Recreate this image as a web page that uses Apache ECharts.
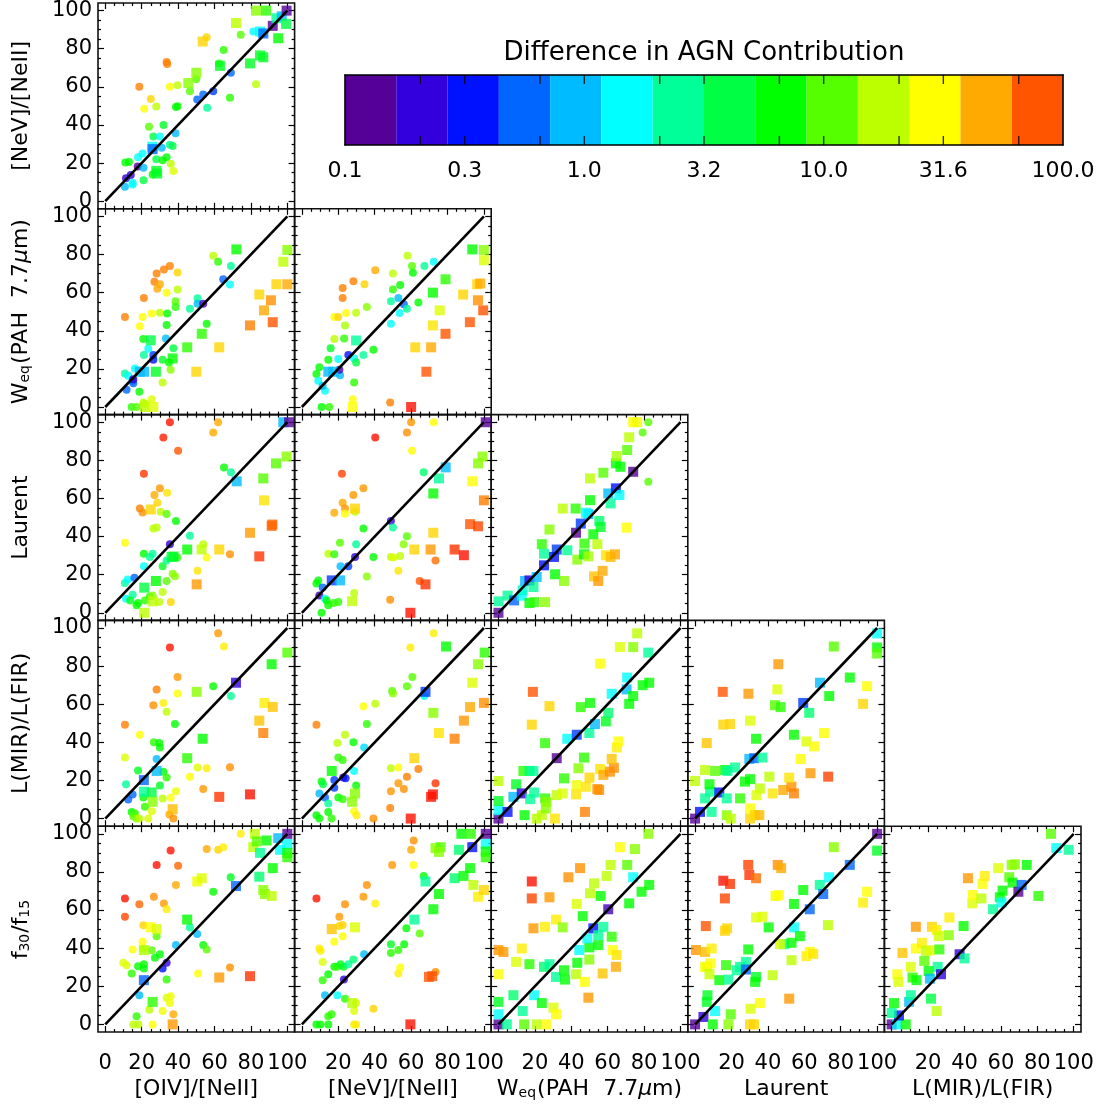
<!DOCTYPE html>
<html><head><meta charset="utf-8">
<script src="https://cdn.jsdelivr.net/npm/echarts@6/dist/echarts.min.js"></script>
<style>html,body{margin:0;padding:0;background:#fff}#c{width:1104px;height:1106px}</style>
</head><body><div id="c"></div>
<script>
// ---------- colour scale (Difference in AGN Contribution, 0.1 .. 100, 14 log bins; 14 = off-scale red)
const PALETTE = ['#550096','#3300dd','#0011ff','#0066ff','#00bbff','#00ffff','#00ff99','#00ff44','#00ff00','#55ff00','#bbff00','#ffff00','#ffaa00','#ff5500','#ff1100'];
const CB_BINS = PALETTE.slice(0, 14);
const CB_LABEL_POS = [-1, -0.5, 0, 0.5, 1, 1.5, 2];           // log10 of 0.1 .. 100
const CB_LABELS = ['0.1', '0.3', '1.0', '3.2', '10.0', '31.6', '100.0'];
const CB_TICKS = [-0.685, -0.5, -0.185, 0, 0.315, 0.5, 0.815, 1, 1.315, 1.5, 1.815];
const CB_TITLE = 'Difference in AGN Contribution';

// ---------- panel axes
const MAJOR = [0, 20, 40, 60, 80, 100];
const MINOR = [5, 10, 15, 25, 30, 35, 45, 50, 55, 65, 70, 75, 85, 90, 95];
const XLAB_FIRST = [0, 20, 40, 60, 80, 100];
const XLAB_OTHER = [20, 40, 60, 80, 100];
const YLAB = [0, 20, 40, 60, 80, 100];
const ROW_NAMES = ['[NeV]/[NeII]', 'W{s|eq}(PAH  7.7{i|μ}m)', 'Laurent', 'L(MIR)/L(FIR)', 'f{s|30}/f{s|15}'];
const COL_NAMES = ['[OIV]/[NeII]', '[NeV]/[NeII]', 'W{s|eq}(PAH  7.7{i|μ}m)', 'Laurent', 'L(MIR)/L(FIR)'];
const DIAG = [[0, 0], [100, 100]];

// ---------- data: [x, y, colour-bin]
const r1c1_circ = [[10.8,7.6,4],[15,8.8,5],[11.4,12,1],[14,13.8,1],[17.8,18.2,0],[11,20.3,8],[13,20.6,8],[15,9.7,5],[18,23,5],[20.5,25,5],[21,17.6,4],[21,11,7],[18.7,60,12.5],[21.4,48.5,11],[25,53.6,11.5],[28,49.7,10],[24,39,9],[26.4,34,7],[30,34,5],[32,40,7.5],[26,14,8],[28,22,7],[31,28,4],[31.5,21.5,8],[33.7,23,8],[35.5,29.6,6],[37,29,7],[38.6,35.6,4],[36,19.7,10],[37.4,15.9,10.5],[33.7,73,12.5],[34,72,12.5],[35.5,60,11],[39.7,60.8,10],[38.8,49.4,8],[39.7,49.8,8],[46.5,57.7,9],[50,64,9],[50.5,53.4,3],[53.8,56,3],[55.7,86,11.5],[56,49,6],[59.3,57.7,2.5],[62.6,72.3,8.5],[65,79.4,8.5],[69,67.4,3],[68.5,54.3,8.5],[74.4,87.3,9],[81.3,89,5],[82.8,61.4,10]];
const r1c1_sq = [[25.8,28.6,5],[26,27.3,3],[28,15.9,7.5],[28.5,14.5,7.5],[45.6,62,9.5],[50,67.4,9.5],[53.5,83.8,11.5],[63,71,7.5],[71.8,93.5,10],[79.5,72.3,7.5],[86.8,75.5,7.5],[85,76.5,7.5],[82.8,100,9.5],[88.3,100,8.5],[85,89,5],[86.8,88,3],[92,92,0],[94,96,6],[96.9,97,4],[99.6,100,0],[99.3,93,7],[95,85.5,8]];

const r2c1_circ = [[10.8,47.2,12.5],[10.8,17.6,6],[12.6,16.4,5],[11.7,9,3],[15,13.7,3],[15.4,12.5,3],[16.3,20.2,5],[15.4,14.6,1],[14.5,0,8.5],[17.2,0,9],[18.7,8,8],[19,42.4,11],[20.5,47.2,11],[21.2,57.2,12.5],[20.9,35.7,8],[21.2,27.3,6],[23.6,30.5,5],[20.9,2.3,10],[21.8,1.5,10],[25.5,49,11],[25.5,4,10.5],[26.4,27.3,2.5],[26.4,24.8,2],[27,65.7,12.5],[28.2,70,12.5],[28.6,62,12],[30,64.4,12],[30,49.5,10],[31.5,24.8,7.5],[31.5,12.9,10],[32.2,72.2,12.5],[33.7,60,11],[33.7,43,8],[34,49,8],[33.3,36,4],[35.5,74,12.5],[35,23.4,8],[35.9,19.5,9.5],[37.4,30.8,7],[38.6,55.5,9],[38.6,52.5,8.5],[39.7,70.6,11.5],[39.7,61.6,10],[46.5,51.6,6],[50.7,57,6],[50.7,54.2,4],[53.8,54.2,0.5],[55.7,43.7,8],[59.3,79.4,10],[62,76.2,8.5],[64.8,67,3],[68.5,64.3,5],[69,74,6]];
const r2c1_sq = [[21.4,18.5,4],[19,18.5,4],[21.8,0,10],[26.4,0,10.5],[25,35,7],[27.8,18.5,7.5],[37,25.5,8],[45,31.3,8.5],[50,18.5,11.5],[53,38.4,8.5],[62.6,31.3,11.5],[72,82.7,8],[79.5,42.8,12.5],[84.6,59,11.5],[87.2,50.7,12],[91,56,12.3],[92,44.5,13],[94,64.4,11.5],[100,64.4,12],[97.8,76.2,10],[100,82.4,9.5]];
const r2c2_circ = [[8,17.3,8],[9,13.7,5],[9.6,20.8,8],[10.8,0,8],[15,0,8.5],[12.7,8.5,5],[11.4,11,4],[14.5,24.8,8],[15.8,30.8,7.5],[17.8,35.7,10],[17.8,47.2,11],[20,47.2,11.5],[20,25.2,5],[21,16.7,4],[20.6,19.5,0.5],[22.4,62.5,12.5],[22.4,57.2,12.5],[23.2,36,8.5],[23.7,42.8,9.8],[24.3,49.3,11],[25.5,27.3,2],[28.3,66,12.5],[28.7,25.5,5],[29.8,23.4,7],[28.7,12.9,8.5],[27.9,4,11],[29.8,49.5,10],[34.4,64.4,11.5],[33.8,27.3,6],[35.7,52.5,9.5],[39.3,30,8],[40.3,71.8,12],[48.5,2.3,12.5],[50,70,10],[50,61.6,8.5],[48.9,55.5,6],[48.9,43.7,5],[53,57.2,4],[53.7,49.3,5],[54,64,8],[56,53.9,3],[57.7,51.6,6],[58,79.4,10],[60.5,74,9],[61,70.4,8],[64,54.8,8],[67.3,74,6],[72.4,76.2,5]];
const r2c2_sq = [[14.5,18.5,4],[17.3,18.5,4],[29.8,34.9,6],[27.9,0,11],[60,0,14],[62.3,31.3,11.5],[71,31.3,12],[72,42.8,11.3],[72,60,8],[68.4,18.5,13],[75.7,50.7,10.5],[78.9,67,8.5],[78.9,38.4,13],[88.6,59,11.5],[92.3,44.5,13],[93.6,82.7,8],[96.3,64.4,11.5],[98,64.8,12],[96.7,56,12.3],[99.6,50.7,13],[100,82.4,9.5],[100,77,10.5]];

const r3c1_circ = [[10.8,36.7,11],[10.8,15.6,6],[12.3,17.4,5],[16,18.4,3],[11.4,7.4,5],[15,9.5,6],[13.7,6.5,7.5],[17.2,3.9,8],[18,5.1,8],[19,54.7,12.5],[20.5,52.6,12.3],[21.2,73,13.5],[21.2,31,8],[21.2,24.4,5],[21.8,6.5,8.5],[24.5,29.3,6],[26,31,6],[24.5,8.6,8.5],[26,9.1,9.5],[27,61.8,12],[26.4,44.2,10],[28.2,44.7,10],[28.6,57.7,11.5],[30,65.3,12.2],[30.4,53,10],[29.7,5.6,10],[31.5,24.4,7.5],[31.5,10.9,10],[31.9,92,13.8],[33.7,27.5,6],[33.7,51.8,9],[33.7,16.7,9],[34,63,11.3],[35.5,100,14],[35.5,36,1],[36,5.6,11.5],[37,20.5,9.5],[38.3,19.2,9.5],[38.8,48.2,8],[40,85,13],[39.5,29,8.5],[46.5,40.4,6],[50.7,22,11.3],[53.8,36,10],[55.7,29,11],[59.3,94.6,12],[62,100,12],[65.2,76.3,8],[68.5,30.7,12.3],[69,73.7,6]];
const r3c1_sq = [[21.4,13.2,7],[21.4,0,10],[26,6,10],[25,54.2,11.5],[27.8,16.7,8],[36.4,29.3,7],[37.5,29.5,7.5],[45,33.2,8],[52.9,33.2,10],[50.2,14.9,12.2],[62.6,33.2,11.5],[72.2,69,4],[79.5,42,12.2],[84.6,29.6,13.5],[86.8,70.5,9],[87.2,59,11.3],[91.4,45.6,12.8],[91.8,46.3,12.8],[93.8,78.4,9],[99.6,82,9.5],[97.8,100,4],[101,100,0]];
const r3c2_circ = [[9.6,9.1,0.5],[10.8,0,8],[8,15.3,8],[9,17,8],[11.4,13.2,3],[12.7,7.4,5],[14.5,3.9,8],[13.6,6.5,8],[14.5,31,10],[17.8,30.7,8.5],[20.9,36.7,9],[21.2,24.4,4],[17.4,5.1,8.5],[20,5.6,8.5],[17.8,52.5,12],[22,73,13.3],[22.4,57.7,12],[23.7,54.7,12.2],[23.7,52,11],[25.5,24.4,2.5],[28.3,61.8,12.2],[28.7,10.4,10],[29.2,29.3,1],[29.8,36,6],[29.2,53,10],[33.8,65.3,12.2],[33.8,44.2,8],[35.7,19,9.5],[39.3,29.3,8],[40.3,92,14],[48.9,48.2,1],[50,44.7,6],[48.9,29.3,10],[50.3,29,10.5],[48.5,6.8,12.3],[53,22,11.3],[54,29.8,10],[55.9,36,9.5],[57.7,40.2,9],[60.5,85,11],[57.7,94.6,12.3],[60,100,12.2],[72.4,100,11],[66.9,73.7,6.5],[73.4,27.5,12.7],[64.7,16.7,13]];
const r3c2_sq = [[16.4,17,2.5],[21,17,4],[27.6,6.1,10],[29.2,54.7,11.5],[59.6,0,14],[61.8,33.2,11.5],[67.9,14.9,13.5],[70.7,33.2,12.2],[72.2,42,11.5],[72.2,62.6,8],[75.3,70.5,6],[79,76.3,4],[83.9,33.2,13.5],[89,30.2,14],[92.4,46.5,13],[96.8,45.4,13.2],[93.6,69,11],[96.8,78.4,9.5],[99.2,82,9.5],[100,59,12.5],[101,100,0]];
const r3c3_circ = [[82.3,100,9],[79.2,94.6,9],[82.3,68.8,9]];
const r3c3_sq = [[0,0,0],[0,6,6],[5,9,6],[8.6,6.5,3],[12.8,9,5],[13.3,11.8,5.5],[14.6,16.7,4],[17,17,1],[19.2,13.5,6],[21,18.8,4],[17,5.1,8],[19.7,5.6,8.5],[25.6,5.6,9.5],[23.8,36,8.5],[25,31,6],[25,24.9,2],[28,43.7,9.5],[31.1,20.2,8],[32,33.2,2.5],[30.5,29.3,2],[36,16.7,9.5],[35.3,54.7,10],[37.8,32.8,6],[42.4,54.7,8.5],[43.3,27.9,9.5],[42.6,42,0],[45.2,46.8,2.5],[47.2,36.3,8.5],[47,30.7,8],[49.4,51.8,4],[48,52.5,5],[49.4,29.6,9.8],[50.3,59.1,8],[50.3,70.5,10],[54.3,36,10],[55.4,48.2,6.5],[56.1,45,7.5],[52.1,41.2,8],[52.5,19.1,11.7],[54.8,16.7,12.2],[57.2,22,12],[57.6,73.5,9],[59,30.2,11.3],[61.6,29.3,11.8],[64,30.7,12],[60.3,62.6,4],[61.6,57.4,6],[64.5,78.4,8],[64.9,82.3,9.8],[64.5,65.3,2],[66.4,61.8,5],[67,76.6,8],[70.4,44.7,11],[70.7,85.4,9],[71.8,92.1,10],[74,74,0],[74,100,11],[76.2,100,10.8]];

const r4c1_circ = [[10.8,49.3,12.5],[10.8,32,10.5],[11.4,18,6],[12.6,10,3],[15,12.7,3],[14.5,3.5,8],[16.3,2.6,8.5],[15.4,1.2,9],[17.2,0,9.5],[18.7,0,10],[18,25.2,7.5],[19,44,11],[20.9,11,8],[21.8,6.2,8.5],[23.6,0,10.5],[25.5,3.9,10.5],[26.4,59.5,12.3],[26.7,40.1,8.5],[29.7,39.6,8],[30,37.3,8],[28.2,67.8,12.5],[28.2,31.3,4],[30,17.3,7.5],[31.5,10.6,10],[31.9,60.7,11.2],[31.9,24.6,8],[33.7,21.5,8.5],[33.7,56,10],[35.2,2.1,12],[35.9,10.9,11],[35.5,89.8,14],[37.4,0,12.3],[38.3,49.6,8],[38.8,14.4,10.7],[39.7,74.3,12.2],[39.7,65.7,11],[46.5,22,11],[50.7,26.8,10.5],[53.8,15.5,12.2],[55.7,26.4,11.2],[59.3,69.5,8],[62,97.2,12.2],[65.2,90.3,11.2],[68.5,27,12.3],[69,64.3,6]];
const r4c1_sq = [[21.2,20.2,3],[21.2,14.1,6],[25.5,13.7,7],[26,8.8,9.5],[28.2,25,4],[37,4.9,11.8],[45,31.7,8.5],[50.2,66.5,9.5],[53.5,41.9,8],[62.6,11.4,13.5],[71.8,71.3,1],[79.5,12.7,14],[84.6,51.4,11.7],[86.8,44.9,12.5],[87.4,60.7,11.2],[92,58.6,11.7],[91.4,81,8],[100,87.1,9]];
const r4c2_circ = [[8,49.3,12.5],[8,1.8,8],[9.6,0,8],[9.6,13.2,4],[10.8,19.4,8],[11.6,18,7],[12.7,11,3],[14.5,7.9,6],[14.5,3.5,8],[16.3,0,8.5],[17.8,20.2,2.5],[17.8,16.2,2.5],[19.5,39.6,10],[20,32,8.5],[22.4,30.8,8.5],[20,11,8],[22.4,10.2,8.5],[22.7,21.5,1],[24,21.2,2],[23.7,44,10],[28.3,40.1,8],[28.7,25,5],[28.7,3.9,11],[30,1.8,11.2],[29.8,17.3,8],[33.8,59,11],[34.2,37.3,4.5],[35.7,49.6,8.5],[39.3,0,12.3],[40.3,60.2,10],[48.5,5.6,12.5],[49.6,66.9,9],[50,65.7,9.5],[48.9,26.4,10],[53,26.8,11],[48.9,14.4,12.2],[53,18.5,12.2],[56,15.5,12.3],[57.7,22,12.5],[64,26,12.5],[73.4,18.5,13.5],[57.7,69.5,9],[60.7,74.3,9],[59.6,89.8,11.2],[72.4,97.2,11.2],[67.3,64.3,5]];
const r4c2_sq = [[16.4,25,8],[29.2,13.2,9.5],[27.6,8.8,9.5],[59.8,0,14],[61.8,31.7,11.5],[67.9,66.5,2.5],[72.2,55.5,9.5],[75.3,44.9,11.3],[71,11.4,14],[72,12.7,14],[79.2,90.3,8],[83.9,41.9,12.5],[89,51.4,12.2],[92.4,58.5,12],[93.6,71.3,10.5],[96.8,81,9.5],[100,60.7,12.3],[100.4,87.1,8.5]];
const r4c3_sq = [[0,0,0],[0,4.4,5],[5,3.5,2],[0,9.2,7.5],[0,19.7,10],[8.2,11.4,4],[9.7,18,7.5],[12.8,13.2,1],[13.7,25,8.5],[14.3,1.8,8],[17,25,6.5],[19.2,25,6],[17.4,10.2,6],[19.6,13.7,6],[21,0,10],[23.8,1.8,10],[25.6,10.6,8.5],[26,5.3,9.5],[26.4,8.8,9.5],[31,0,11.3],[32,12.3,10],[35.3,13.2,10.5],[25.6,39.6,8.5],[18.3,49.3,11.5],[18.9,66.5,13],[28,59,11.5],[32,31.7,0],[36,21.1,8.5],[43,17.6,10.8],[42.6,12.7,11.3],[43.9,26.4,9.5],[47,32,8.5],[45.2,58.5,8.5],[50.3,60.7,8],[47.5,3.5,12.5],[37.8,41.9,5],[43,44,2.5],[49.9,44.9,6],[53,49.6,4],[48,16.7,11.3],[50,21.5,11.5],[54.3,15.5,12.3],[55.3,15,12.3],[55.8,81.3,11],[59,51,7.5],[60.3,55.5,6.5],[55.8,26,11.3],[57.6,22.9,12],[61.2,24.6,12.3],[63.4,26.6,12.3],[62.2,31.3,11.7],[65,37.3,11.2],[65.9,40.5,11],[62.2,65.5,5],[66.7,90,10.5],[74,90,9.5],[70.7,74,5],[70.4,67.8,4],[71.8,60.2,8],[74,64.3,8],[76.2,97.2,10],[79.2,70,8],[82.3,87.1,6],[82.8,71.3,8]];
const r4c4_sq = [[0,0,0],[2.7,3.5,2],[9.1,3.5,6],[5.5,10.6,6],[8.2,14.1,6],[0,19.7,10],[5.5,25.5,10],[11,25,9],[16.5,25.5,8],[17.8,25,6],[7.9,18,8],[13.3,13.7,2],[17.4,10.6,6],[17.4,1.8,9.5],[19.6,0,10],[22,26.8,6],[24.7,10.6,8.5],[6.4,39.6,11.7],[15.5,49.3,11.5],[19.2,49.6,11.5],[15.2,66.5,13],[29.3,65.5,12.2],[30.2,51.4,10.5],[27.4,19.4,8],[30.2,20.7,8],[29.8,31.3,4],[32.5,31.7,3],[37,32,6],[30.2,5.3,11],[32.9,1.8,11.5],[35.3,1.8,11.8],[30.2,0,11.5],[33.5,41.9,8],[35.6,15.8,10],[33.7,12.3,10.5],[40.8,22,10],[42.6,13.2,11.3],[45.7,81,12.2],[45.2,67.8,10.5],[43.9,59.5,9],[47,58.5,8.5],[48.4,15,12],[52.9,16.7,12.3],[54.3,13.2,12.5],[51.7,21.5,11.3],[54.3,44,8],[58,31.3,11],[59.4,60.7,2.5],[61.2,40.5,10.5],[65.3,37.9,11],[62.7,55.5,6.5],[63.4,23.8,12.2],[68.6,71.3,4],[70.8,44.9,11],[73.7,64.3,8],[73.1,22,13.3],[76.2,90.3,9],[85,74,8],[92.3,60.2,11.5],[94.5,69.5,11],[100,97.2,5],[100,89.8,8],[100,86.6,9]];

const r5c1_circ = [[10.8,66.1,14],[10.8,56.5,13.2],[9.9,32.3,10.5],[11.7,31,10.5],[14.5,26.7,8.5],[15,39.3,11],[17.2,4.2,8.5],[15.4,0,10],[18.2,0,10],[18.7,15.3,4],[18.7,63,12.8],[18,30.5,8],[20.5,43.3,11],[20.9,39.8,10.5],[21.2,31.6,8],[21.2,29.3,8],[20.9,52,11.5],[24.2,7.7,10],[25.5,38.9,9],[26,0,11],[26.7,67,12.3],[28.2,83.7,14],[28.2,46.3,9],[27.3,35,8],[30,36.8,8],[31.5,29.3,2],[31.5,7,10.8],[32.2,63.5,12.2],[33.7,60.4,11.2],[33.7,23.5,8.5],[33.7,32.3,1],[33.7,14,10.5],[35.9,14.7,10.7],[35.5,11.2,10.8],[35.9,91.2,14],[37.4,5.3,12],[38.8,41.6,4],[38.8,73.2,12],[40,83.2,12.8],[46.5,50.9,6],[50.5,47.4,4],[51,26.7,11],[53.8,41.6,8],[55.7,39.3,9],[55.7,92,12],[59.3,69.6,8],[62,91.6,11.5],[64.8,93,11.2],[68.5,29.8,12.3],[68.9,77.2,7.5],[74.4,100,11.2]];
const r5c1_sq = [[21.2,23.2,3],[21.2,39,9.8],[25,51,11],[28.2,50,10.5],[26,11.8,8.5],[37,0,12.2],[45,55,8],[50.5,75,10.8],[53,76.7,10.5],[62.6,24.6,12.2],[71.8,72.6,3],[79.5,25.3,13.5],[81.3,93,10],[82.2,100,10],[83.2,96,9],[85,90,6],[84.6,77.5,6.5],[88.6,96.5,8],[86.8,70.5,9.5],[87.7,68.4,9.5],[91.4,67.4,10],[92,82,8],[95,97.7,4],[96,91.6,5],[100,94.7,5],[100,100,0],[100,90,8],[100,87.7,8.5]];
const r5c2_circ = [[8,66.1,14],[9.6,39.8,11.2],[10.3,38.6,11.2],[11.4,32.8,10.5],[11.4,23.2,8.5],[12.7,15.3,4],[8,0,8],[10.2,0,8],[14.5,26.3,8],[14.5,4.2,8.5],[16.3,5.3,8.5],[14.5,0,8],[17.8,43.3,11],[17.8,30.2,8],[19.5,30.2,8.5],[19.5,15.3,5],[20.6,51.6,11.5],[22.4,52.1,11.5],[20.6,56.5,12.2],[21.2,31.6,7.5],[22.9,30.2,7.5],[22.4,46.3,11],[23.1,23.5,1],[23.7,63,12.3],[23.7,13.5,8.5],[25.5,31.6,6],[28.3,34,6.5],[28.7,7,10.5],[28.7,0,11.2],[29.8,0,11.2],[29.8,11.2,10.5],[33.8,67,12.2],[34.2,36.8,4],[35.7,73.2,12.3],[39.3,8.2,11.5],[40.3,63.5,11.2],[49.6,83.7,12.2],[48.9,42,7.5],[48.9,37.5,8.5],[53,39,8.5],[53,26.7,11.2],[54,29.8,11],[61.4,96.5,12.3],[60,91.6,12],[61.3,83.7,11],[56.2,42.1,8],[64.7,47.7,9],[57.4,50.4,8],[66.9,77.9,8],[73.4,27.5,12.3]];
const r5c2_sq = [[16.4,50,11.7],[29.2,50.9,10.5],[27.6,11.2,10],[59.6,0,14],[61.8,55,6],[67.9,75,6],[72.2,60.4,8],[71.6,25.3,13],[69.8,24.9,13],[73.4,92.5,9.5],[76.2,93,9],[75.3,90.5,9.5],[75.3,68.4,8],[83.9,76.7,6.5],[86.3,91.6,6.5],[87.6,100,8],[92.8,100,8.5],[88.8,77.9,8],[92.4,82,8],[93.6,93,2],[94.2,73.2,10],[96.8,67,11.2],[100,70.5,11.5],[101,100,0],[101,94.7,5],[101,90.7,8],[101,87.7,8.5]];
const r5c3_sq = [[0,0,0],[4.6,0,6],[0,5.3,5],[0,11.8,7.5],[0,26.3,11],[0,39,12.2],[2.7,38,12.2],[9.7,32.8,10.5],[12.8,39.8,11.2],[8.2,15.3,6.5],[13.3,7,6],[14.1,0,9],[17,31.6,8.5],[19.2,50.4,12.2],[18.3,75,14],[18.3,66.1,13.2],[19.6,15.3,5],[21,0,10],[26.1,0,11],[23.8,11.2,8],[25.6,51.2,11.2],[28,66.7,12.2],[25,30.2,6.5],[28,31.6,6],[30.2,8.8,10.5],[31.6,5.3,11],[31.6,55,11.2],[35.3,50.9,9.5],[31.6,24.9,6],[36,28.4,8],[36.6,23.5,8],[38.4,77.2,12.3],[42.6,26.3,10],[43,63.2,10.5],[43.3,32.3,8],[44.4,39,5],[46.3,56.8,8],[44.8,82,12.3],[47.5,22.3,11],[49.4,14,12.2],[49.9,40.4,8],[48.8,45.1,5],[50.3,68.8,10],[52.5,74,10],[52.1,50.4,2],[49.9,34,9.5],[54.8,46.8,6],[54.8,41.6,8],[56.1,67.4,8],[57.6,51.2,6],[57.2,26.7,11.7],[59.4,77.9,10],[60.3,60.4,0.5],[61.6,83.7,10],[62.2,46,8.5],[62.8,39,11],[64.9,36.4,11.3],[64.5,30.2,12],[66.7,93,11],[70.7,83.7,9],[71.8,63.5,8],[74,77.2,5],[75,92,9.5],[78.6,69.6,8],[82.8,73.2,8],[82.3,100,9.5]];
const r5c4_sq = [[0,0,0],[4.6,3.9,1],[11,7,5],[9.7,0,8],[6.4,11.8,7.5],[6.8,15.3,7.5],[18.3,0,9.5],[19.6,5.3,9],[6.4,30.2,10],[0.5,39,12.2],[5.5,38,11.8],[9.1,39.8,11.2],[5.5,30.2,11],[8.2,32,11],[7.9,26.3,10.2],[5.9,51.6,13],[16.4,49.1,11.5],[17.6,50.4,11.5],[15.5,75.4,14],[19.2,73.7,13.5],[16.4,66.1,13.2],[13.3,23.2,8],[17,31.1,8.5],[18.3,23.5,6],[22.9,28.4,6],[24.7,30.2,6],[27.9,32.8,6],[27.9,28.8,3],[29.2,39.3,8],[29.2,83.7,13.3],[29.8,78.4,13.5],[33.5,76.7,12.7],[33.5,24.9,7.5],[33,22.3,8],[30.5,8.2,10.5],[30.2,0,11.5],[32.4,0,11.5],[33.5,56.1,10.5],[37,56.5,10.5],[35.6,11.2,11],[42.6,25.8,10],[40.4,50.9,8],[44.2,67.4,10.8],[46,67.8,11],[45.4,83.7,12.3],[47.3,82,12],[48.8,42.1,6],[46.6,42.1,10.5],[51.7,13.5,12.2],[53,33.7,10],[53,42.8,8],[54.3,50.9,5],[57.6,46.3,8],[54.3,63.2,8],[59.4,70.5,8],[61.2,35.8,11.2],[63,38.1,11],[64.9,37,11.3],[63,60.4,3],[68.5,73.2,6],[70.4,68.4,3],[73,52.1,10],[73.6,77.2,5],[76.2,93,9.5],[85,83.7,3],[92.3,63.9,11.2],[94.5,69.6,11],[100,100,0],[100,91.2,7.5]];
const r5c5_sq = [[0,0,0],[3,0,5],[7.7,0,8],[4,4.7,2],[0,6,6],[1.3,11.2,8],[9.6,11.8,4],[10.5,15.3,6],[21.6,13.5,7],[24.7,7,10],[3.1,26.3,11],[3.7,22.3,10.5],[5.9,37.5,11.7],[10.5,30.2,10.5],[11.4,24.6,8.5],[13.6,23.2,8],[13.3,51.2,12.2],[13.3,39.8,11],[16.6,42.8,11.2],[17.9,33.3,9],[20.3,28,8],[21,24,4],[18.8,38.6,10],[21,38.9,10.5],[22.1,51.2,11.5],[24.7,49.5,11.2],[25.8,46.3,10.3],[25.3,30.2,6],[27.1,26.3,1],[26.2,39.3,8.5],[31.4,46.8,9.5],[31.7,56.1,11.2],[37.3,36.8,1],[40,34.6,6],[39.5,51.6,8],[41.9,76.7,12.2],[44.3,63.5,10.5],[44.6,67.9,11],[49.3,66.1,10],[49.8,73.7,11],[51.1,77.9,11.2],[55.7,60.4,6],[58.5,82,10.5],[59.4,66.7,8],[60.9,70.2,8],[60.3,63.9,5],[64.6,77.2,9],[65.9,83.7,9.5],[67.7,84,9.5],[66.4,74.4,8],[69.6,69.6,0],[71.4,73.2,3],[74.2,83.7,8],[80.6,67.4,8.5],[87.5,100,9],[90.4,92.5,5],[97.2,91.6,6]];

const PANELS = [
  {r:0,c:0,circ:r1c1_circ,sq:r1c1_sq},
  {r:1,c:0,circ:r2c1_circ,sq:r2c1_sq},{r:1,c:1,circ:r2c2_circ,sq:r2c2_sq},
  {r:2,c:0,circ:r3c1_circ,sq:r3c1_sq},{r:2,c:1,circ:r3c2_circ,sq:r3c2_sq},{r:2,c:2,circ:r3c3_circ,sq:r3c3_sq},
  {r:3,c:0,circ:r4c1_circ,sq:r4c1_sq},{r:3,c:1,circ:r4c2_circ,sq:r4c2_sq},{r:3,c:2,circ:[],sq:r4c3_sq},{r:3,c:3,circ:[],sq:r4c4_sq},
  {r:4,c:0,circ:r5c1_circ,sq:r5c1_sq},{r:4,c:1,circ:r5c2_circ,sq:r5c2_sq},{r:4,c:2,circ:[],sq:r5c3_sq},{r:4,c:3,circ:[],sq:r5c4_sq},{r:4,c:4,circ:[],sq:r5c5_sq}
];

// ---------- helpers
function hex2rgb(h){return [parseInt(h.slice(1,3),16),parseInt(h.slice(3,5),16),parseInt(h.slice(5,7),16)];}
function colorOf(c){
  const n = PALETTE.length - 1;
  const i = Math.max(0, Math.min(n, Math.floor(c))), f = c - i;
  if (f < 1e-6 || i >= n) return PALETTE[i];
  const a = hex2rgb(PALETTE[i]), b = hex2rgb(PALETTE[i+1]);
  return 'rgb(' + a.map((v,k)=>Math.round(v+(b[k]-v)*f)).join(',') + ')';
}
const FONT = 'DejaVu Sans';
const RICH = {
  s: {fontSize: 14, fontFamily: FONT, color: '#000', verticalAlign: 'bottom', padding: [0, 1, 0, 0]},
  i: {fontSize: 22, fontFamily: FONT, color: '#000', fontStyle: 'italic'}
};
const W = 196.6, H = 205.8;
const colLeft = c => 98 + c * W;
const rowTop = r => 3 + r * H;

function mkAxis(gi, pos, ticks, len, labels, name, isY){
  const ax = {
    type: 'value', gridIndex: gi, position: pos, min: -4, max: 104,
    axisLine: {show: false, onZero: false}, splitLine: {show: false},
    axisTick: {show: true, inside: true, length: len, customValues: ticks, lineStyle: {color: '#000', width: 1.2}},
    axisLabel: labels ? {show: true, customValues: labels, margin: isY ? 6 : 21, fontSize: 21, fontFamily: FONT, color: '#000', hideOverlap: false} : {show: false}
  };
  if (name) {
    ax.name = name; ax.nameLocation = 'middle'; ax.nameGap = isY ? 66 : 46;
    ax.nameTextStyle = {fontSize: 22, fontFamily: FONT, color: '#000', rich: RICH};
  }
  return ax;
}

const grids = [], xAxes = [], yAxes = [], series = [];
PANELS.forEach((p, gi) => {
  grids.push({left: colLeft(p.c), top: rowTop(p.r), width: W, height: H, show: true,
    borderColor: '#111', borderWidth: 1.6, backgroundColor: 'transparent', containLabel: false, outerBoundsMode: 'none'});
  const xb = xAxes.length, yb = yAxes.length;
  const bottomRow = p.r === 4, firstCol = p.c === 0;
  xAxes.push(mkAxis(gi, 'bottom', MAJOR, 6, bottomRow ? (firstCol ? XLAB_FIRST : XLAB_OTHER) : null, bottomRow ? COL_NAMES[p.c] : null, false));
  xAxes.push(mkAxis(gi, 'top', MAJOR, 6, null, null, false));
  xAxes.push(mkAxis(gi, 'bottom', MINOR, 3, null, null, false));
  xAxes.push(mkAxis(gi, 'top', MINOR, 3, null, null, false));
  yAxes.push(mkAxis(gi, 'left', MAJOR, 6, firstCol ? YLAB : null, firstCol ? ROW_NAMES[p.r] : null, true));
  yAxes.push(mkAxis(gi, 'right', MAJOR, 6, null, null, true));
  yAxes.push(mkAxis(gi, 'left', MINOR, 3, null, null, true));
  yAxes.push(mkAxis(gi, 'right', MINOR, 3, null, null, true));
  const itemStyle = {color: prm => colorOf(prm.data[2])};
  if (p.circ.length) series.push({type: 'scatter', xAxisIndex: xb, yAxisIndex: yb, data: p.circ, symbol: 'circle', symbolSize: 8, itemStyle, silent: true, z: 2});
  series.push({type: 'scatter', xAxisIndex: xb, yAxisIndex: yb, data: p.sq, symbol: 'rect', symbolSize: 10, itemStyle, silent: true, z: 2});
  series.push({type: 'line', xAxisIndex: xb, yAxisIndex: yb, data: DIAG, symbol: 'none', lineStyle: {color: '#000', width: 2.6}, silent: true, z: 5});
});

// ---------- colour bar: bars grid + overlaid tick/label grid
const CB_RECT = {left: 345, top: 75, width: 718, height: 70};
const cbGrid = grids.length;
grids.push(Object.assign({show: false, containLabel: false, outerBoundsMode: 'none'}, CB_RECT));
const cbCat = xAxes.length;
xAxes.push({type: 'category', gridIndex: cbGrid, data: CB_BINS.map((_, i) => i), show: false, boundaryGap: true});
const cbY = yAxes.length;
yAxes.push({type: 'value', gridIndex: cbGrid, min: 0, max: 1, show: false});
series.push({type: 'bar', xAxisIndex: cbCat, yAxisIndex: cbY, barCategoryGap: '0%', barGap: '0%', silent: true, z: 1,
  data: CB_BINS.map(c => ({value: 1, itemStyle: {color: c}}))});

const tkGrid = grids.length;
grids.push(Object.assign({show: false, containLabel: false, outerBoundsMode: 'none', z: 20}, CB_RECT));
const cbLabelFmt = v => { const k = CB_LABEL_POS.findIndex(q => Math.abs(q - v) < 1e-6); return k >= 0 ? CB_LABELS[k] : ''; };
function cbAxis(pos, withLabels){
  return {type: 'value', gridIndex: tkGrid, position: pos, min: -1, max: 2, z: 20,
    axisLine: {show: true, onZero: false, lineStyle: {color: '#000', width: 1.6}}, splitLine: {show: false},
    axisTick: {show: false},
    axisLabel: withLabels ? {show: true, customValues: CB_LABEL_POS, formatter: cbLabelFmt, margin: 15, fontSize: 22, fontFamily: FONT, color: '#000', hideOverlap: false} : {show: false}};
}
const tkX = xAxes.length;
xAxes.push(cbAxis('bottom', true));
xAxes.push(cbAxis('top', false));
const tkY = yAxes.length;
yAxes.push({type: 'value', gridIndex: tkGrid, position: 'left', min: 0, max: 1, z: 20, axisLine: {show: true, onZero: false, lineStyle: {color: '#000', width: 1.6}}, axisTick: {show: false}, axisLabel: {show: false}, splitLine: {show: false}});
yAxes.push({type: 'value', gridIndex: tkGrid, position: 'right', min: 0, max: 1, z: 20, axisLine: {show: true, onZero: false, lineStyle: {color: '#000', width: 1.6}}, axisTick: {show: false}, axisLabel: {show: false}, splitLine: {show: false}});
// colour-bar tick marks (inside, bottom and top edges), placed through the tick grid's scale
series.push({type: 'scatter', xAxisIndex: tkX, yAxisIndex: tkY, silent: true, z: 20,
  data: CB_TICKS.map(v => [v, 0]), symbol: 'rect', symbolSize: [1.4, 9], symbolOffset: [0, -4.5], itemStyle: {color: '#000'}});
series.push({type: 'scatter', xAxisIndex: tkX, yAxisIndex: tkY, silent: true, z: 20,
  data: CB_TICKS.map(v => [v, 1]), symbol: 'rect', symbolSize: [1.4, 9], symbolOffset: [0, 4.5], itemStyle: {color: '#000'}});

const chart = echarts.init(document.getElementById('c'), null, {renderer: 'canvas'});
chart.setOption({
  animation: false,
  backgroundColor: '#fff',
  textStyle: {fontFamily: FONT},
  grid: grids, xAxis: xAxes, yAxis: yAxes, series: series,
  graphic: [{type: 'text', x: 704, y: 53, style: {text: CB_TITLE, font: '26px "DejaVu Sans"', fill: '#000', textAlign: 'center', textVerticalAlign: 'middle'}}]
});
</script></body></html>
